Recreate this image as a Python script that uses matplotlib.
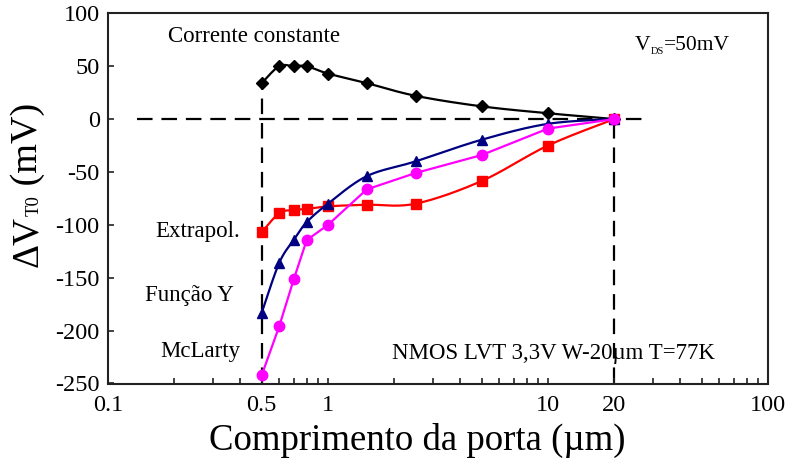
import numpy as np
import matplotlib
matplotlib.use("Agg")
import matplotlib.pyplot as plt
from matplotlib.ticker import FixedLocator, FixedFormatter, NullLocator

plt.rcParams['font.family'] = ['Liberation Serif', 'DejaVu Serif']
plt.rcParams['axes.unicode_minus'] = False

# Gate lengths (µm)
lengths = [0.5, 0.6, 0.7, 0.8, 1.0, 1.5, 2.5, 5, 10, 20]

# Threshold voltage shift ΔVT0 (mV) per extraction method
corrente_constante = [34, 50, 50, 50, 43, 34, 22, 12, 5.5, 0]
extrapol = [-107, -89, -86, -85, -82.5, -81, -80, -58.5, -25, 0]
funcao_y = [-183, -136, -114, -97.5, -80, -54, -40, -19.5, -4.5, 0]
mclarty = [-242, -196, -151, -114.5, -100, -66.5, -51, -34, -9, 0]

x_tick_values = [0.1, 0.5, 1, 10, 20, 100]
x_tick_labels = ['0.1', '0.5', '1', '10', '20', '100']
y_ticks = [-250, -200, -150, -100, -50, 0, 50, 100]

W, H = 791, 463
fig = plt.figure(figsize=(W / 100, H / 100), dpi=100)
ax = fig.add_axes([108 / W, (H - 383.5) / H, (768 - 108) / W, (383.5 - 13.3) / H])
ax.set_xscale('log')
ax.set_xlim(0.1, 100)
ax.set_ylim(-250, 100)


def smooth(xs, ys, n=24):
    """Excel-style smoothed line (Catmull-Rom Bezier in screen-like space)."""
    u = np.log10(np.asarray(xs, float)) * 220.0
    v = np.asarray(ys, float) * 1.06
    P = np.column_stack([u, v])
    P = np.vstack([P[0], P, P[-1]])
    out = []
    t = np.linspace(0, 1, n)[:, None]
    for i in range(1, len(P) - 2):
        p0, p1, p2, p3 = P[i - 1], P[i], P[i + 1], P[i + 2]
        c1 = p1 + (p2 - p0) / 6.0
        c2 = p2 - (p3 - p1) / 6.0
        seg = ((1 - t) ** 3) * p1 + 3 * ((1 - t) ** 2) * t * c1 + 3 * (1 - t) * t ** 2 * c2 + t ** 3 * p2
        out.append(seg if i == 1 else seg[1:])
    out = np.vstack(out)
    return 10 ** (out[:, 0] / 220.0), out[:, 1] / 1.06


# reference dashed guides
dash = dict(color='black', lw=1.6, dashes=(7, 4), zorder=1)
ax.plot([0.135, 29], [0, 0], **dash)
ax.plot([0.5, 0.5], [-250, corrente_constante[0]], **dash)
ax.plot([20, 20], [-250, 0], **dash)

lw = 1.6
sx, sy = smooth(lengths, corrente_constante)
ax.plot(sx, sy, color='black', lw=lw, zorder=3)
ax.plot(lengths, corrente_constante, ls='none', marker='D', ms=6.5, color='black', zorder=4)

sx, sy = smooth(lengths, extrapol)
ax.plot(sx, sy, color='#ff0000', lw=lw, zorder=3)
ax.plot(lengths, extrapol, ls='none', marker='s', ms=7, color='#ff0000', zorder=4)

sx, sy = smooth(lengths, funcao_y)
ax.plot(sx, sy, color='#000080', lw=lw, zorder=5)
ax.plot(lengths, funcao_y, ls='none', marker='^', ms=7.5, color='#000080', zorder=6)

ax.plot(lengths, mclarty, color='#ff00ff', lw=lw, marker='o', ms=7.5, zorder=7)

# axes styling
for s in ax.spines.values():
    s.set_linewidth(1.5)
    s.set_color('#222222')

minor_pos = [m * d for d in (0.1, 1, 10) for m in range(1, 10)] + [100]
ax.xaxis.set_major_locator(FixedLocator(x_tick_values))
ax.xaxis.set_major_formatter(FixedFormatter(x_tick_labels))
ax.xaxis.set_minor_locator(FixedLocator([p for p in minor_pos if p not in x_tick_values]))
ax.yaxis.set_major_locator(FixedLocator(y_ticks))
ax.yaxis.set_minor_locator(NullLocator())
ax.tick_params(axis='both', which='both', direction='in', length=4.5, width=1.2,
               colors='#222222', top=False, right=False)
ax.tick_params(axis='both', which='major', labelsize=17.5, labelcolor='black')
ax.tick_params(axis='x', which='major', pad=8)
ax.tick_params(axis='y', which='major', pad=6)

renderer = fig.canvas.get_renderer()


def run_text(parts, x, y, rotation=0):
    """Draw consecutive text runs (text, size, downward baseline shift in px)
    starting from a baseline point given in pixels from the top-left."""
    for text, size, shift in parts:
        if rotation == 0:
            t = fig.text(x / W, (H - y - shift) / H, text, fontsize=size,
                         ha='left', va='baseline')
            x = t.get_window_extent(renderer).x1
        else:
            t = fig.text((x + shift) / W, (H - y) / H, text, fontsize=size,
                         ha='left', va='baseline', rotation=90, rotation_mode='anchor')
            y = H - t.get_window_extent(renderer).y1


def put(text, x, y, size=16.5, ha='left'):
    fig.text(x / W, 1 - y / H, text, fontsize=size, ha=ha, va='center')


# axis titles
fig.text(417.5 / W, (H - 450) / H, 'Comprimento da porta (µm)', fontsize=26.5,
         ha='center', va='baseline')
run_text([('ΔV', 27, 0), ('T0', 13.5, 2), (' (mV)', 27.5, 0)], 37, 267, rotation=90)

put('Corrente constante', 168, 36)
run_text([('V', 15.5, 0), ('DS', 7.5, 4), ('=50mV', 15.5, 0)], 635, 49.5)
put('Extrapol.', 155, 232)
put('Função Y', 145, 295)
put('McLarty', 160, 352)
put('NMOS LVT 3,3V W-20µm T=77K', 392, 353)

fig.savefig('out.png', dpi=100)
